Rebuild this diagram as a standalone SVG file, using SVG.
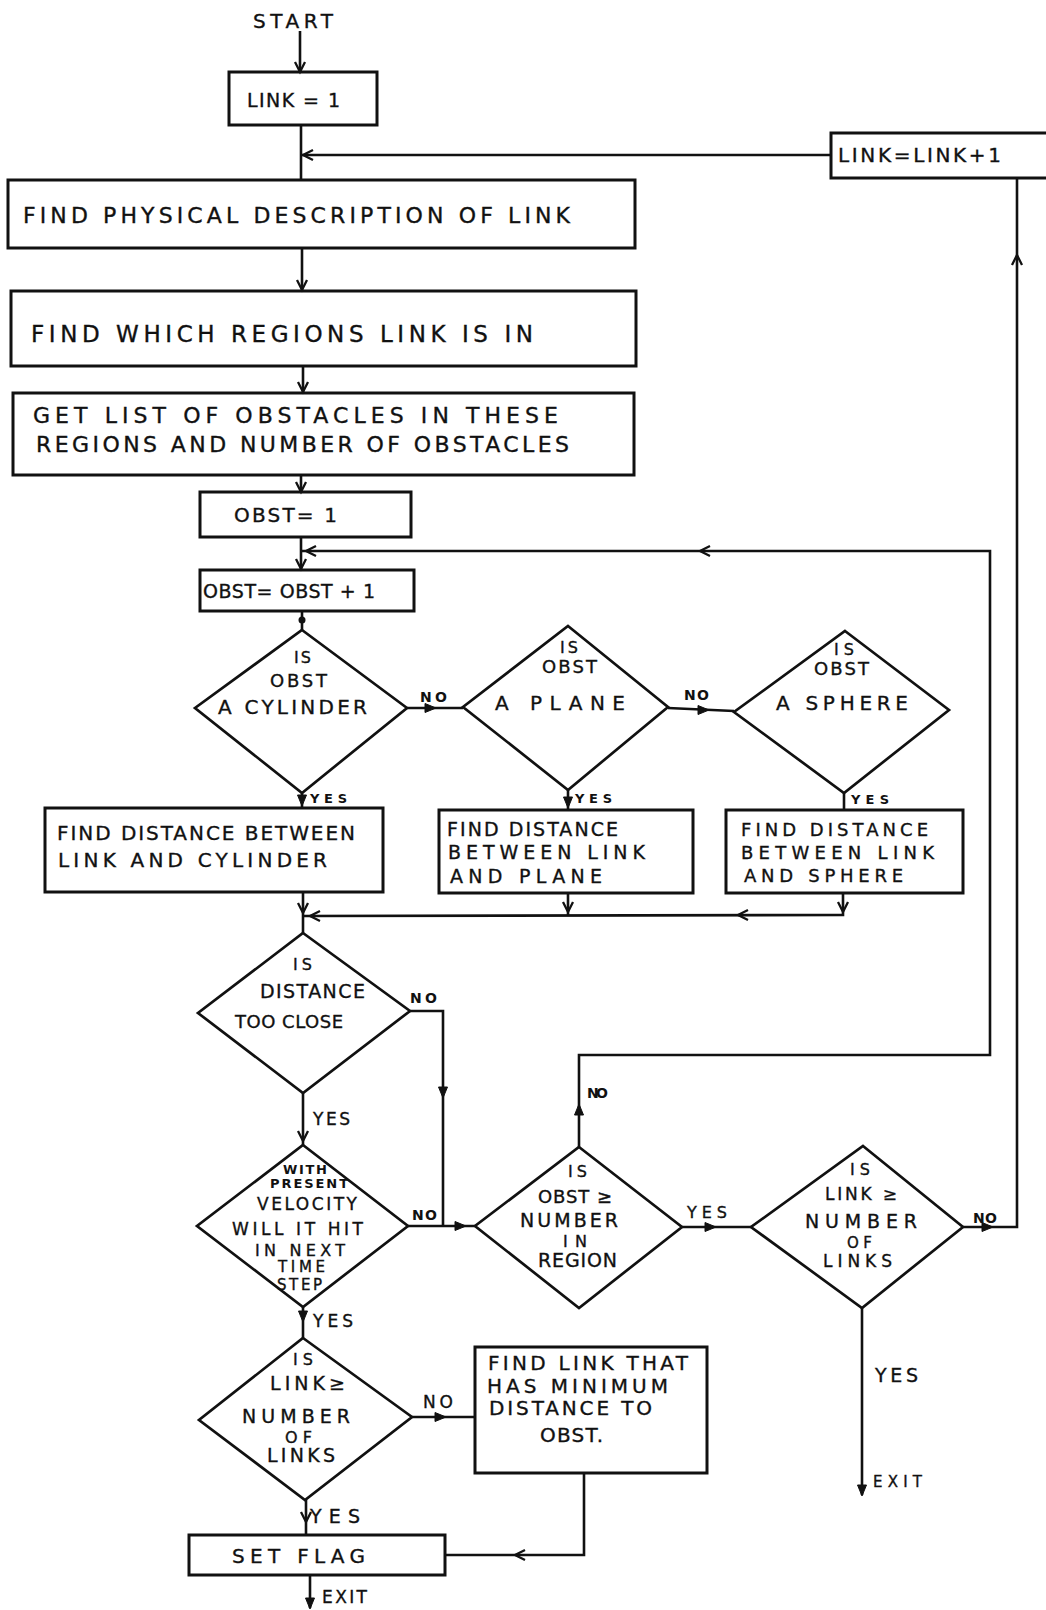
<svg xmlns="http://www.w3.org/2000/svg" xmlns:xlink="http://www.w3.org/1999/xlink" width="1046" height="1610" viewBox="0 0 1046 1610">
<style>
.box{fill:none;stroke:#111;stroke-width:3}
.dia{fill:none;stroke:#111;stroke-width:2.7;stroke-linejoin:miter}
.ln{fill:none;stroke:#111;stroke-width:2.6}
text{font-family:"DejaVu Sans","Liberation Sans",Arial,sans-serif;fill:#111;stroke:#111;stroke-width:0.35}
.t23{font-size:23px}
.t22{font-size:22px}
.t20{font-size:20px}
.t19{font-size:19px}
.t18{font-size:18px}
.t17{font-size:17px}
.t16{font-size:16px}
.t15{font-size:15px}
.lbl{font-size:14px;font-weight:bold;stroke-width:0}
.sm{font-size:13px;font-weight:bold;stroke-width:0}
</style>
<defs>
<path id="v" d="M-5,-10 L0,0 L5,-10" fill="none" stroke="#111" stroke-width="2.3"/>
<path id="t" d="M-4.5,-11 L0,0 L4.5,-11 Z" fill="#111" stroke="#111" stroke-width="1"/>
</defs>
<rect x="0" y="0" width="1046" height="1610" fill="#ffffff"/>

<g id="connectors">
<line class="ln" x1="300" y1="31" x2="300" y2="72"/>
<line class="ln" x1="301" y1="125" x2="301" y2="180"/>
<line class="ln" x1="831" y1="155" x2="301" y2="155"/>
<line class="ln" x1="302" y1="248" x2="302" y2="291"/>
<line class="ln" x1="303" y1="366" x2="303" y2="393"/>
<line class="ln" x1="301" y1="475" x2="301" y2="492"/>
<line class="ln" x1="301" y1="537" x2="301" y2="570"/>
<line class="ln" x1="302" y1="611" x2="302" y2="630"/>
<circle cx="302" cy="620" r="3.5" fill="#111"/>
<line class="ln" x1="407" y1="708" x2="463" y2="708"/>
<line class="ln" x1="668" y1="708" x2="734" y2="711"/>
<line class="ln" x1="302" y1="793" x2="302" y2="808"/>
<line class="ln" x1="568" y1="790" x2="568" y2="810"/>
<line class="ln" x1="844" y1="793" x2="844" y2="810"/>
<line class="ln" x1="303" y1="892" x2="303" y2="933"/>
<line class="ln" x1="568" y1="893" x2="568" y2="915"/>
<polyline class="ln" points="843,893 843,915 303,916"/>
<polyline class="ln" points="410,1011 443,1011 443,1226"/>
<line class="ln" x1="303" y1="1093" x2="303" y2="1145"/>
<line class="ln" x1="408" y1="1226" x2="475" y2="1226"/>
<polyline class="ln" points="579,1147 579,1055 990,1055 990,551 301,551"/>
<line class="ln" x1="682" y1="1227" x2="751" y2="1227"/>
<polyline class="ln" points="963,1227 1017,1227 1017,178"/>
<line class="ln" x1="862" y1="1308" x2="862" y2="1495"/>
<line class="ln" x1="303" y1="1307" x2="303" y2="1338"/>
<line class="ln" x1="412" y1="1417" x2="475" y2="1417"/>
<line class="ln" x1="306" y1="1500" x2="306" y2="1535"/>
<polyline class="ln" points="584,1473 584,1555 445,1555"/>
<line class="ln" x1="310" y1="1575" x2="310" y2="1608"/>

<use xlink:href="#v" href="#v" transform="translate(300,72)"/>
<use xlink:href="#v" href="#v" transform="translate(303,155) rotate(90)"/>
<use xlink:href="#v" href="#v" transform="translate(1017,255) rotate(180)"/>
<use xlink:href="#v" href="#v" transform="translate(302,290)"/>
<use xlink:href="#v" href="#v" transform="translate(303,392)"/>
<use xlink:href="#v" href="#v" transform="translate(301,492)"/>
<use xlink:href="#v" href="#v" transform="translate(301,569)"/>
<use xlink:href="#v" href="#v" transform="translate(306,551) rotate(90)"/>
<use xlink:href="#v" href="#v" transform="translate(700,551) rotate(90)"/>
<use xlink:href="#t" href="#t" transform="translate(436,708) rotate(-90)"/>
<use xlink:href="#t" href="#t" transform="translate(709,710) rotate(-90)"/>
<use xlink:href="#t" href="#t" transform="translate(302,806)"/>
<use xlink:href="#t" href="#t" transform="translate(568,808)"/>
<use xlink:href="#v" href="#v" transform="translate(303,913)"/>
<use xlink:href="#v" href="#v" transform="translate(568,912)"/>
<use xlink:href="#v" href="#v" transform="translate(843,912)"/>
<use xlink:href="#v" href="#v" transform="translate(310,916) rotate(90)"/>
<use xlink:href="#v" href="#v" transform="translate(738,915) rotate(90)"/>
<use xlink:href="#t" href="#t" transform="translate(443,1098)"/>
<use xlink:href="#v" href="#v" transform="translate(303,1141)"/>
<use xlink:href="#t" href="#t" transform="translate(466,1226) rotate(-90)"/>
<use xlink:href="#t" href="#t" transform="translate(579,1104) rotate(180)"/>
<use xlink:href="#t" href="#t" transform="translate(716,1227) rotate(-90)"/>
<use xlink:href="#t" href="#t" transform="translate(993,1227) rotate(-90)"/>
<use xlink:href="#t" href="#t" transform="translate(862,1496)"/>
<use xlink:href="#t" href="#t" transform="translate(303,1322)"/>
<use xlink:href="#t" href="#t" transform="translate(446,1417) rotate(-90)"/>
<use xlink:href="#v" href="#v" transform="translate(306,1522)"/>
<use xlink:href="#v" href="#v" transform="translate(515,1555) rotate(90)"/>
<use xlink:href="#t" href="#t" transform="translate(310,1609)"/>

<text class="lbl" x="420" y="702" textLength="27">NO</text>
<text class="lbl" x="684" y="700" textLength="25">NO</text>
<text class="sm" x="310" y="803" textLength="37">YES</text>
<text class="sm" x="575" y="803" textLength="37">YES</text>
<text class="sm" x="851" y="804" textLength="38">YES</text>
<text class="lbl" x="410" y="1003" textLength="27">NO</text>
<text class="t17" x="313" y="1125" textLength="37">YES</text>
<text class="lbl" x="412" y="1220" textLength="25">NO</text>
<text class="lbl" x="587" y="1098" textLength="21">NO</text>
<text class="t16" x="687" y="1218" textLength="40">YES</text>
<text class="lbl" x="973" y="1223" textLength="24">NO</text>
<text class="t19" x="875" y="1382" textLength="43">YES</text>
<text class="t15" x="873" y="1487" textLength="49">EXIT</text>
<text class="t17" x="313" y="1327" textLength="40">YES</text>
<text class="t17" x="423" y="1408" textLength="30">NO</text>
<text class="t19" x="310" y="1523" textLength="50">YES</text>
<text class="t17" x="322" y="1603" textLength="45">EXIT</text>
</g>

<g id="start"><text class="t20" x="253" y="28" textLength="80">START</text></g>

<g id="link1">
<rect class="box" x="229" y="72" width="148" height="53"/>
<text class="t19" x="247" y="107" textLength="93">LINK = 1</text>
</g>

<g id="linkinc">
<rect class="box" x="831" y="133" width="220" height="45"/>
<text class="t20" x="838" y="162" textLength="163">LINK=LINK+1</text>
</g>

<g id="physical">
<rect class="box" x="8" y="180" width="627" height="68"/>
<text class="t22" x="23" y="223" textLength="547">FIND PHYSICAL DESCRIPTION OF LINK</text>
</g>

<g id="regions">
<rect class="box" x="11" y="291" width="625" height="75"/>
<text class="t23" x="31" y="342" textLength="502">FIND WHICH REGIONS LINK IS IN</text>
</g>

<g id="getlist">
<rect class="box" x="13" y="393" width="621" height="82"/>
<text class="t22" x="33" y="423" textLength="525">GET LIST OF OBSTACLES IN THESE</text>
<text class="t22" x="36" y="452" textLength="533">REGIONS AND NUMBER OF OBSTACLES</text>
</g>

<g id="obst1">
<rect class="box" x="200" y="492" width="211" height="45"/>
<text class="t20" x="234" y="522" textLength="103">OBST= 1</text>
</g>

<g id="obstinc">
<rect class="box" x="200" y="570" width="214" height="41"/>
<text class="t19" x="203" y="598" textLength="172">OBST= OBST + 1</text>
</g>

<g id="d-cylinder">
<polygon class="dia" points="302,630 407,708 302,793 195,708"/>
<text class="t16" x="294" y="663" textLength="17">IS</text>
<text class="t18" x="270" y="687" textLength="57">OBST</text>
<text class="t20" x="218" y="714" textLength="149">A CYLINDER</text>
</g>

<g id="d-plane">
<polygon class="dia" points="568,626 668,707 568,790 463,707"/>
<text class="t16" x="560" y="653" textLength="18">IS</text>
<text class="t18" x="542" y="673" textLength="55">OBST</text>
<text class="t20" x="495" y="710" textLength="130">A  PLANE</text>
</g>

<g id="d-sphere">
<polygon class="dia" points="845,631 949,710 844,793 734,712"/>
<text class="t16" x="834" y="655" textLength="20">IS</text>
<text class="t18" x="814" y="675" textLength="55">OBST</text>
<text class="t20" x="776" y="710" textLength="132">A SPHERE</text>
</g>

<g id="b-cylinder">
<rect class="box" x="45" y="808" width="338" height="84"/>
<text class="t20" x="57" y="840" textLength="298">FIND  DISTANCE BETWEEN</text>
<text class="t20" x="58" y="867" textLength="269">LINK  AND CYLINDER</text>
</g>

<g id="b-plane">
<rect class="box" x="439" y="810" width="254" height="83"/>
<text class="t19" x="447" y="836" textLength="171">FIND DISTANCE</text>
<text class="t19" x="448" y="859" textLength="197">BETWEEN LINK</text>
<text class="t19" x="450" y="883" textLength="152">AND PLANE</text>
</g>

<g id="b-sphere">
<rect class="box" x="726" y="810" width="237" height="83"/>
<text class="t18" x="741" y="836" textLength="187">FIND DISTANCE</text>
<text class="t18" x="741" y="859" textLength="193">BETWEEN LINK</text>
<text class="t18" x="744" y="882" textLength="159">AND SPHERE</text>
</g>

<g id="d-distance">
<polygon class="dia" points="303,933 410,1011 303,1093 198,1013"/>
<text class="t16" x="293" y="970" textLength="19">IS</text>
<text class="t19" x="260" y="998" textLength="105">DISTANCE</text>
<text class="t18" x="235" y="1028" textLength="108">TOO CLOSE</text>
</g>

<g id="d-velocity">
<polygon class="dia" points="303,1145 408,1226 303,1307 197,1226"/>
<text class="sm" x="283" y="1174" textLength="44">WITH</text>
<text class="sm" x="270" y="1188" textLength="78">PRESENT</text>
<text class="t17" x="257" y="1210" textLength="100">VELOCITY</text>
<text class="t17" x="232" y="1235" textLength="131">WILL IT HIT</text>
<text class="t16" x="255" y="1256" textLength="90">IN NEXT</text>
<text class="t15" x="278" y="1272" textLength="47">TIME</text>
<text class="t15" x="277" y="1290" textLength="45">STEP</text>
</g>

<g id="d-obstnum">
<polygon class="dia" points="579,1147 682,1227 579,1308 475,1226"/>
<text class="t16" x="568" y="1177" textLength="19">IS</text>
<text class="t18" x="538" y="1203" textLength="74">OBST ≥</text>
<text class="t19" x="520" y="1227" textLength="98">NUMBER</text>
<text class="t16" x="563" y="1247" textLength="24">IN</text>
<text class="t19" x="538" y="1267" textLength="79">REGION</text>
</g>

<g id="d-linknum1">
<polygon class="dia" points="863,1146 963,1227 862,1308 751,1227"/>
<text class="t16" x="850" y="1175" textLength="20">IS</text>
<text class="t17" x="825" y="1200" textLength="72">LINK ≥</text>
<text class="t19" x="805" y="1228" textLength="112">NUMBER</text>
<text class="t15" x="847" y="1248" textLength="25">OF</text>
<text class="t17" x="823" y="1267" textLength="69">LINKS</text>
</g>

<g id="d-linknum2">
<polygon class="dia" points="303,1338 412,1417 305,1500 199,1420"/>
<text class="t16" x="293" y="1365" textLength="20">IS</text>
<text class="t19" x="270" y="1390" textLength="75">LINK≥</text>
<text class="t19" x="242" y="1423" textLength="108">NUMBER</text>
<text class="t16" x="285" y="1443" textLength="27">OF</text>
<text class="t19" x="267" y="1462" textLength="68">LINKS</text>
</g>

<g id="b-findlink">
<rect class="box" x="475" y="1347" width="232" height="126"/>
<text class="t20" x="488" y="1370" textLength="200">FIND LINK THAT</text>
<text class="t20" x="487" y="1393" textLength="181">HAS MINIMUM</text>
<text class="t20" x="489" y="1415" textLength="163">DISTANCE  TO</text>
<text class="t20" x="540" y="1442" textLength="63">OBST.</text>
</g>

<g id="b-setflag">
<rect class="box" x="189" y="1535" width="256" height="40"/>
<text class="t20" x="232" y="1563" textLength="133">SET  FLAG</text>
</g>
</svg>
